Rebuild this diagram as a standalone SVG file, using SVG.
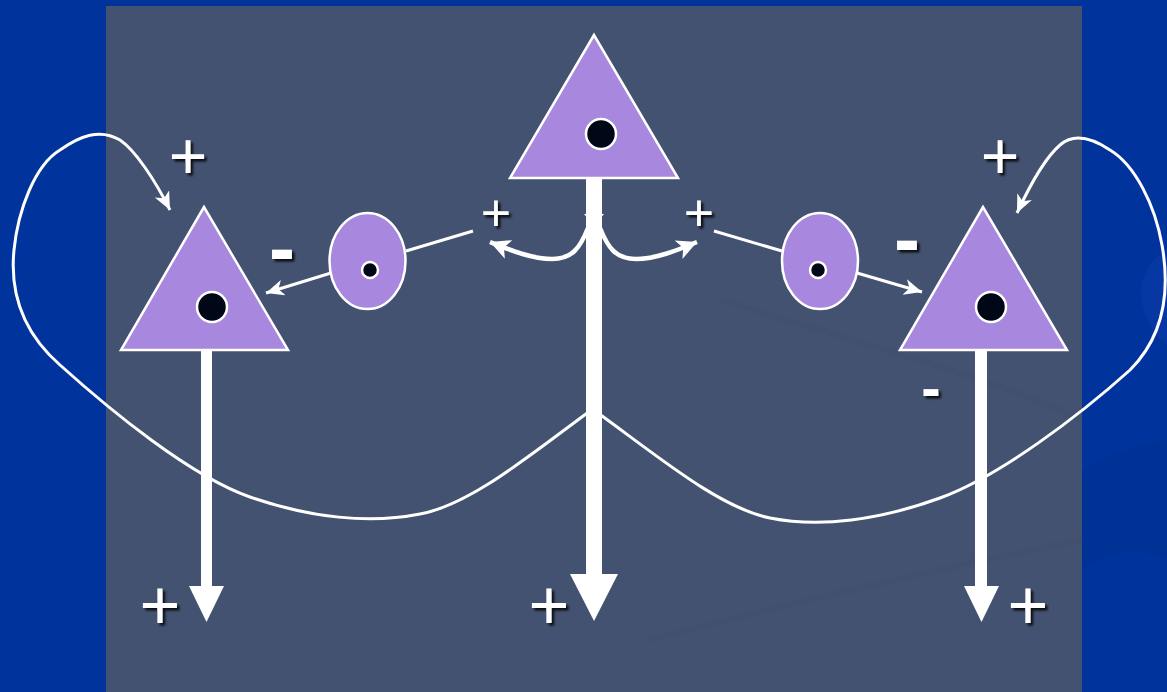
<svg xmlns="http://www.w3.org/2000/svg" width="1167" height="692" viewBox="0 0 1167 692">
  <style>
    .soma { fill: #A887DE; stroke: #FFFFFF; stroke-width: 2.5; }
    .nuc { fill: #000818; stroke: #FFFFFF; stroke-width: 2.5; }
    .wire { fill: none; stroke: #FFFFFF; stroke-width: 3; }
    .thick { fill: none; stroke: #FFFFFF; stroke-width: 4.5; }
    .axon { fill: #FFFFFF; }
    .lbl { font-family: "Liberation Sans", Arial, sans-serif; fill: #FFFFFF; text-anchor: middle; filter: url(#shadow); }
    .minus { font-weight: bold; }
  </style>
  <defs>
    <filter id="shadow" x="-50%" y="-50%" width="200%" height="200%">
      <feDropShadow dx="2.5" dy="2.5" stdDeviation="1.2" flood-color="#000000" flood-opacity="0.85"/>
    </filter>
    <marker id="arr" markerUnits="userSpaceOnUse" markerWidth="22" markerHeight="18" refX="18" refY="8" orient="auto">
      <path d="M0,0 L18,8 L0,16 L5,8 Z" fill="#FFFFFF"/>
    </marker>
    <marker id="arrB" markerUnits="userSpaceOnUse" markerWidth="24" markerHeight="22" refX="20" refY="10" orient="auto">
      <path d="M0,0 L20,10 L0,20 L5,10 Z" fill="#FFFFFF"/>
    </marker>
  </defs>

  <!-- background -->
  <rect x="0" y="0" width="1167" height="692" fill="#00339C"/>
  <path d="M1167,250 C1130,270 1135,320 1167,345 Z" fill="#0A3AA8" opacity="0.6"/>
  <path d="M1082,470 C1140,440 1167,440 1167,440 L1167,560 C1130,540 1100,560 1082,570 Z" fill="#002F8E" opacity="0.5"/>
  <rect x="106" y="6" width="976" height="686" fill="#435270"/>
  <path d="M720,300 C850,340 1000,380 1082,420" fill="none" stroke="#3E4C68" stroke-width="6" opacity="0.2"/>
  <path d="M650,640 C800,600 980,560 1082,540" fill="none" stroke="#3E4C68" stroke-width="6" opacity="0.15"/>

  <!-- connectors -->
  <g id="connectors">
    <!-- left feedback loop -->
    <path class="wire" marker-end="url(#arr)" d="M590,411 C530,455 470,505 420,514 C370,524 310,518 250,497 C190,476 110,410 60,365 C20,330 10,290 14,250 C18,210 35,165 60,150 C80,136 100,128 120,140 C135,150 155,180 170,210"/>
    <!-- right feedback loop -->
    <path class="wire" marker-end="url(#arr)" d="M598,413 C660,458 720,508 770,518 C820,528 880,520 940,498 C1000,476 1080,415 1130,370 C1165,335 1170,290 1162,245 C1155,205 1135,165 1110,150 C1095,140 1075,132 1060,145 C1045,158 1030,185 1017,213"/>
    <!-- axon collaterals from centre cell -->
    <path class="thick" marker-end="url(#arrB)" d="M588,228 C580,248 572,259 552,259 C532,259 510,250 490,242"/>
    <path class="thick" marker-end="url(#arrB)" d="M600,228 C608,248 616,259 636,259 C656,259 678,250 697,242"/>
    <polygon points="584,214 604,214 594,226" fill="#FFFFFF"/>
    <!-- interneuron inputs -->
    <line class="wire" x1="473" y1="231" x2="406" y2="251"/>
    <line class="wire" x1="714" y1="231" x2="782" y2="251"/>
    <!-- interneuron outputs -->
    <path class="wire" marker-end="url(#arr)" d="M331,273 L266,293"/>
    <path class="wire" marker-end="url(#arr)" d="M857,273 L922,292"/>
    <!-- axons -->
    <rect class="axon" x="201" y="348" width="11" height="240"/>
    <polygon class="axon" points="189,586 224,586 206.5,622"/>
    <rect class="axon" x="586" y="176" width="16" height="400"/>
    <polygon class="axon" points="570,574 618,574 594,621"/>
    <rect class="axon" x="975" y="348" width="12" height="240"/>
    <polygon class="axon" points="964,586 999,586 981.5,622"/>
  </g>

  <!-- nodes -->
  <g id="pyramidal-left">
    <polygon class="soma" points="204,207 121,350 288,350"/>
    <circle class="nuc" cx="212" cy="307" r="15"/>
  </g>
  <g id="pyramidal-center">
    <polygon class="soma" points="594,35 510,178 678,178"/>
    <circle class="nuc" cx="601" cy="134" r="15"/>
  </g>
  <g id="pyramidal-right">
    <polygon class="soma" points="983,207 900,350 1067,350"/>
    <circle class="nuc" cx="991" cy="307" r="15"/>
  </g>
  <g id="interneuron-left">
    <ellipse class="soma" cx="367.5" cy="261" rx="38" ry="48"/>
    <circle class="nuc" cx="370" cy="270" r="8"/>
  </g>
  <g id="interneuron-right">
    <ellipse class="soma" cx="820" cy="261" rx="38" ry="48"/>
    <circle class="nuc" cx="818" cy="270" r="8"/>
  </g>

  <!-- labels -->
  <g id="labels">
    <text class="lbl" x="188" y="179" font-size="66">+</text>
    <text class="lbl" x="1000" y="179" font-size="66">+</text>
    <text class="lbl" x="496" y="231" font-size="52">+</text>
    <text class="lbl" x="699" y="231" font-size="52">+</text>
    <text class="lbl minus" x="282" y="275" font-size="78">-</text>
    <text class="lbl minus" x="907" y="266" font-size="78">-</text>
    <text class="lbl minus" x="931" y="408" font-size="58">-</text>
    <text class="lbl" x="160" y="629" font-size="70">+</text>
    <text class="lbl" x="549" y="629" font-size="70">+</text>
    <text class="lbl" x="1028" y="629" font-size="70">+</text>
  </g>
</svg>
